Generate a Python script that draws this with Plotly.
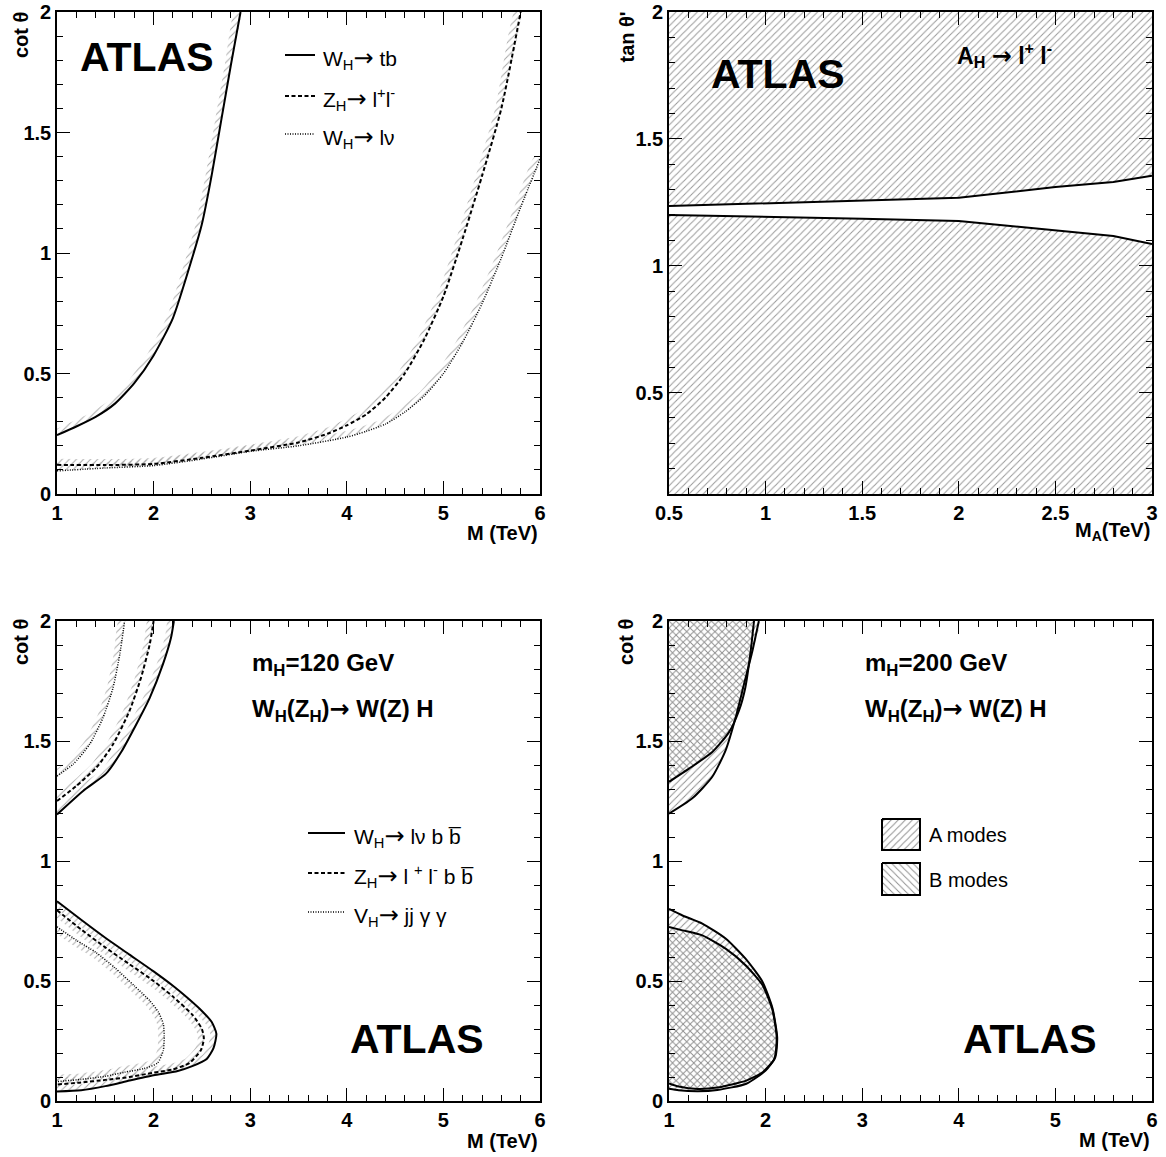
import numpy as np
import plotly.graph_objects as go

# ---------------- data ----------------
# Top-left: cot(theta) vs M (TeV)
TB_X = [1.0, 1.2, 1.4, 1.6, 1.8, 2.0, 2.2, 2.4, 2.5, 2.6, 2.7, 2.8, 2.9]
TB_Y = [0.244, 0.28, 0.32, 0.375, 0.46, 0.575, 0.73, 0.98, 1.12, 1.32, 1.55, 1.78, 2.0]
ZLL_X = [1.0, 1.5, 2.0, 2.5, 3.0, 3.5, 3.8, 4.0, 4.2, 4.4, 4.6, 4.8, 5.0, 5.2, 5.4, 5.6, 5.8]
ZLL_Y = [0.121, 0.12, 0.125, 0.15, 0.18, 0.214, 0.25, 0.285, 0.33, 0.4, 0.5, 0.64, 0.82, 1.06, 1.32, 1.6, 2.0]
WLN_X = [1.0, 1.5, 2.0, 2.5, 3.0, 3.5, 4.0, 4.2, 4.4, 4.6, 4.8, 5.0, 5.2, 5.4, 5.6, 5.8, 6.0]
WLN_Y = [0.096, 0.108, 0.118, 0.145, 0.177, 0.2, 0.236, 0.26, 0.29, 0.34, 0.406, 0.5, 0.63, 0.79, 0.98, 1.19, 1.39]

# Top-right: tan(theta') vs M_A (TeV)
TR_UP_X = [0.5, 1.0, 1.5, 2.0, 2.5, 2.8, 3.0]
TR_UP_Y = [1.235, 1.245, 1.255, 1.268, 1.31, 1.33, 1.355]
TR_LO_X = [0.5, 1.0, 1.5, 2.0, 2.5, 2.8, 3.0]
TR_LO_Y = [1.2, 1.193, 1.185, 1.176, 1.14, 1.117, 1.085]

# Bottom-left: m_H = 120 GeV
BL_SOL_UP_X = [1.0, 1.27, 1.51, 1.666, 1.82, 1.96, 2.097, 2.18, 2.21]
BL_SOL_UP_Y = [1.194, 1.292, 1.365, 1.455, 1.569, 1.68, 1.82, 1.93, 2.0]
BL_DSH_UP_X = [1.0, 1.2, 1.407, 1.58, 1.75, 1.87, 1.96, 2.0]
BL_DSH_UP_Y = [1.25, 1.3125, 1.389, 1.486, 1.625, 1.764, 1.903, 2.0]
BL_DOT_UP_X = [1.0, 1.166, 1.338, 1.476, 1.58, 1.65, 1.70]
BL_DOT_UP_Y = [1.354, 1.403, 1.486, 1.597, 1.722, 1.861, 2.0]
BL_SOL_LO_X = [1.0, 1.25, 1.5, 1.75, 2.0, 2.2, 2.35, 2.5, 2.6, 2.65, 2.62, 2.55, 2.4, 2.25, 2.0, 1.75, 1.5, 1.25, 1.0]
BL_SOL_LO_Y = [0.832, 0.755, 0.68, 0.61, 0.54, 0.48, 0.43, 0.375, 0.33, 0.28, 0.22, 0.175, 0.145, 0.125, 0.107, 0.085, 0.062, 0.045, 0.04]
BL_DSH_LO_X = [1.0, 1.25, 1.5, 1.75, 2.0, 2.2, 2.4, 2.5, 2.52, 2.49, 2.37, 2.2, 2.0, 1.75, 1.5, 1.25, 1.0]
BL_DSH_LO_Y = [0.795, 0.715, 0.64, 0.57, 0.5, 0.435, 0.36, 0.3, 0.26, 0.212, 0.158, 0.132, 0.118, 0.1, 0.088, 0.077, 0.069]
BL_DOT_LO_X = [1.0, 1.2, 1.4, 1.6, 1.8, 1.96, 2.05, 2.1, 2.11, 2.1, 2.04, 1.9, 1.7, 1.5, 1.25, 1.0]
BL_DOT_LO_Y = [0.726, 0.67, 0.62, 0.555, 0.48, 0.418, 0.37, 0.322, 0.27, 0.21, 0.158, 0.135, 0.12, 0.103, 0.09, 0.081]

# Bottom-right: m_H = 200 GeV (A modes / B modes)
BR_A_UP_X = [1.0, 1.241, 1.448, 1.586, 1.69, 1.776, 1.862, 1.93]
BR_A_UP_Y = [1.197, 1.261, 1.351, 1.461, 1.598, 1.736, 1.873, 2.0]
BR_B_UP_X = [1.0, 1.207, 1.448, 1.62, 1.724, 1.79, 1.845, 1.88]
BR_B_UP_Y = [1.33, 1.385, 1.454, 1.536, 1.626, 1.722, 1.873, 2.0]
BR_A_LO_X = [1.0, 1.14, 1.345, 1.586, 1.79, 1.966, 2.07, 2.12, 2.1, 2.0, 1.8, 1.5, 1.3, 1.1, 1.0]
BR_A_LO_Y = [0.80, 0.773, 0.739, 0.677, 0.594, 0.498, 0.388, 0.264, 0.182, 0.127, 0.072, 0.046, 0.041, 0.045, 0.051]
BR_B_LO_X = [1.0, 1.14, 1.345, 1.586, 1.79, 1.966, 2.07, 2.115, 2.09, 1.97, 1.8, 1.5, 1.3, 1.1, 1.0]
BR_B_LO_Y = [0.725, 0.711, 0.69, 0.635, 0.567, 0.484, 0.381, 0.264, 0.175, 0.12, 0.085, 0.056, 0.05, 0.06, 0.073]

# axis ranges
M_RANGE = [1, 6]
MA_RANGE = [0.5, 3]
COT_RANGE = [0, 2]
TAN_RANGE = [0.1, 2]

# ---------------- layout geometry (page pixels) ----------------
W, H = 1166, 1157
LEFT_X = (57, 540)
RIGHT_X = (669, 1152)
TOP_Y = (12, 494)
BOT_Y = (621, 1101)

def xdom(px):
    return [px[0] / W, px[1] / W]

def ydom(py):
    return [1 - py[1] / H, 1 - py[0] / H]

FONT = "Liberation Sans"
GRAY = "#8c8c8c"
ARROW = '<span style="font-family:DejaVu Sans;font-size:24px">→</span>'

fig = go.Figure()

def hatch_band(xs, ys, xr, yr, px_x, px_y, width=6, side=1):
    """Thin polygon along a curve (offset in pixel space) used for the hatched side band."""
    sx = (px_x[1] - px_x[0]) / (xr[1] - xr[0])
    sy = (px_y[1] - px_y[0]) / (yr[1] - yr[0])
    X = np.array(xs) * sx
    Y = np.array(ys) * sy
    dX = np.gradient(X)
    dY = np.gradient(Y)
    n = np.hypot(dX, dY)
    nx = -dY / n * side
    ny = dX / n * side
    ox = (X + width * nx) / sx
    oy = (Y + width * ny) / sy
    return list(xs) + list(ox[::-1]), list(ys) + list(oy[::-1])

def add_pattern(xs, ys, xa, ya, shape="/", color=GRAY, size=6, solidity=0.18, spline=True):
    fig.add_trace(go.Scatter(
        x=xs, y=ys, xaxis=xa, yaxis=ya, mode="lines", fill="toself",
        line=dict(width=0, shape="spline" if spline else "linear", smoothing=0.6),
        fillcolor="rgba(0,0,0,0)",
        fillpattern=dict(shape=shape, fgcolor=color, bgcolor="rgba(0,0,0,0)",
                         size=size, solidity=solidity, fillmode="replace"),
        showlegend=False, hoverinfo="skip"))

def add_line(xs, ys, xa, ya, dash="solid", width=2, spline=True):
    fig.add_trace(go.Scatter(
        x=xs, y=ys, xaxis=xa, yaxis=ya, mode="lines",
        line=dict(color="black", width=width, dash=dash,
                  shape="spline" if spline else "linear", smoothing=0.6),
        showlegend=False, hoverinfo="skip"))

DASH = "4px,2.5px"
DOT = "1px,1.5px"
BAND_COLOR = "#a8a8a8"

# ---- top-left ----
tl = [(TB_X, TB_Y, "solid", 2), (ZLL_X, ZLL_Y, DASH, 2), (WLN_X, WLN_Y, DOT, 1.5)]
for xs, ys, d, w in tl:
    bx, by = hatch_band(xs, ys, M_RANGE, COT_RANGE, LEFT_X, TOP_Y, width=6, side=1)
    add_pattern(bx, by, "x", "y", color=BAND_COLOR, size=5, solidity=0.2)
for xs, ys, d, w in tl:
    add_line(xs, ys, "x", "y", dash=d, width=w)

# ---- top-right ----
add_pattern(TR_UP_X + [MA_RANGE[1], MA_RANGE[0]], TR_UP_Y + [TAN_RANGE[1], TAN_RANGE[1]],
            "x2", "y2", color="#999999", size=5, solidity=0.2, spline=False)
add_pattern(TR_LO_X + [MA_RANGE[1], MA_RANGE[0]], TR_LO_Y + [TAN_RANGE[0], TAN_RANGE[0]],
            "x2", "y2", color="#999999", size=5, solidity=0.2, spline=False)
add_line(TR_UP_X, TR_UP_Y, "x2", "y2", width=2, spline=False)
add_line(TR_LO_X, TR_LO_Y, "x2", "y2", width=2, spline=False)

# ---- bottom-left ----
bl_up = [(BL_SOL_UP_X, BL_SOL_UP_Y, "solid", 2), (BL_DSH_UP_X, BL_DSH_UP_Y, DASH, 2),
         (BL_DOT_UP_X, BL_DOT_UP_Y, DOT, 1.5)]
bl_lo = [(BL_SOL_LO_X, BL_SOL_LO_Y, "solid", 2), (BL_DSH_LO_X, BL_DSH_LO_Y, DASH, 2),
         (BL_DOT_LO_X, BL_DOT_LO_Y, DOT, 1.5)]
for xs, ys, d, w in bl_up:
    bx, by = hatch_band(xs, ys, M_RANGE, COT_RANGE, LEFT_X, BOT_Y, width=6, side=1)
    add_pattern(bx, by, "x3", "y3", color=BAND_COLOR, size=5, solidity=0.2)
for xs, ys, d, w in bl_lo:
    bx, by = hatch_band(xs, ys, M_RANGE, COT_RANGE, LEFT_X, BOT_Y, width=6, side=-1)
    add_pattern(bx, by, "x3", "y3", color=BAND_COLOR, size=5, solidity=0.2)
for xs, ys, d, w in bl_up + bl_lo:
    add_line(xs, ys, "x3", "y3", dash=d, width=w)

# ---- bottom-right ----
PAT_A = dict(shape="/", color="#8a8a8a", size=5, solidity=0.18)
PAT_B = dict(shape="\\", color="#8a8a8a", size=5, solidity=0.18)
add_pattern(BR_A_UP_X + [M_RANGE[0]], BR_A_UP_Y + [COT_RANGE[1]], "x4", "y4", **PAT_A)
add_pattern(BR_B_UP_X + [M_RANGE[0]], BR_B_UP_Y + [COT_RANGE[1]], "x4", "y4", **PAT_B)
add_pattern(BR_A_LO_X, BR_A_LO_Y, "x4", "y4", **PAT_A)
add_pattern(BR_B_LO_X, BR_B_LO_Y, "x4", "y4", **PAT_B)
for xs, ys in [(BR_A_UP_X, BR_A_UP_Y), (BR_B_UP_X, BR_B_UP_Y), (BR_A_LO_X, BR_A_LO_Y), (BR_B_LO_X, BR_B_LO_Y)]:
    add_line(xs, ys, "x4", "y4", width=2)

# ---- legend swatches for bottom-right (pixel overlay axis) ----
BOX_A = (882, 920, 819, 850)
BOX_B = (882, 920, 863, 895)
for (x0, x1, y0, y1), pat in [(BOX_A, PAT_A), (BOX_B, PAT_B)]:
    fig.add_trace(go.Scatter(
        x=[x0, x1, x1, x0, x0], y=[y0, y0, y1, y1, y0], xaxis="x5", yaxis="y5",
        mode="lines", fill="toself", line=dict(color="black", width=2),
        fillcolor="rgba(0,0,0,0)",
        fillpattern=dict(shape=pat["shape"], fgcolor=pat["color"], bgcolor="rgba(0,0,0,0)",
                         size=pat["size"], solidity=pat["solidity"], fillmode="replace"),
        showlegend=False, hoverinfo="skip"))

# ---------------- axes ----------------
def axis_style(rng, dtick, minor_dtick, dom):
    return dict(
        domain=dom, range=rng, dtick=dtick, tick0=0, automargin=False,
        ticklabeloverflow="allow",
        showline=True, linecolor="black", linewidth=1.6, mirror="allticks",
        ticks="inside", ticklen=13, tickwidth=1.2, tickcolor="black",
        showgrid=False, zeroline=False,
        tickfont=dict(family=FONT, size=20, color="black", weight="bold"),
        minor=dict(ticks="inside", ticklen=6.5, tickwidth=1, tickcolor="black",
                   dtick=minor_dtick, tick0=0, showgrid=False),
        fixedrange=True,
    )

fig.update_layout(
    xaxis=dict(axis_style(M_RANGE, 1, 0.2, xdom(LEFT_X)), anchor="y"),
    yaxis=dict(axis_style(COT_RANGE, 0.5, 0.1, ydom(TOP_Y)), anchor="x"),
    xaxis2=dict(axis_style(MA_RANGE, 0.5, 0.1, xdom(RIGHT_X)), anchor="y2"),
    yaxis2=dict(axis_style(TAN_RANGE, 0.5, 0.1, ydom(TOP_Y)), anchor="x2"),
    xaxis3=dict(axis_style(M_RANGE, 1, 0.2, xdom(LEFT_X)), anchor="y3"),
    yaxis3=dict(axis_style(COT_RANGE, 0.5, 0.1, ydom(BOT_Y)), anchor="x3"),
    xaxis4=dict(axis_style(M_RANGE, 1, 0.2, xdom(RIGHT_X)), anchor="y4"),
    yaxis4=dict(axis_style(COT_RANGE, 0.5, 0.1, ydom(BOT_Y)), anchor="x4"),
    # overlay axis in page-pixel coordinates for texts and legend samples
    xaxis5=dict(domain=[0, 1], range=[0, W], visible=False, fixedrange=True,
                anchor="y5", automargin=False),
    yaxis5=dict(domain=[0, 1], range=[H, 0], visible=False, fixedrange=True,
                anchor="x5", automargin=False),
    width=W, height=H, margin=dict(l=0, r=0, t=0, b=0, autoexpand=False),
    paper_bgcolor="white", plot_bgcolor="rgba(0,0,0,0)",
    showlegend=False,
    font=dict(family=FONT, color="black"),
)

# ---------------- texts & legend lines (page pixel coordinates) ----------------
def txt(x, y, s, size=21, bold=False, xanchor="left", yanchor="middle", angle=0):
    fig.add_annotation(x=x, y=y, xref="x5", yref="y5", text=s, showarrow=False,
                       xanchor=xanchor, yanchor=yanchor, textangle=angle,
                       font=dict(family=FONT, size=size, color="black",
                                 weight="bold" if bold else "normal"))

def legline(x0, x1, y, dash, width):
    fig.add_shape(type="line", xref="x5", yref="y5", x0=x0, x1=x1, y0=y, y1=y,
                  line=dict(color="black", width=width, dash=dash))

# top-left
txt(146.5, 57, "ATLAS", size=41, bold=True, xanchor="center")
for yy, d, w, s in [(55, "solid", 2, "W<sub>H</sub>" + ARROW + " tb"),
                    (96, DASH, 2, "Z<sub>H</sub>" + ARROW + " l<sup>+</sup>l<sup>-</sup>"),
                    (134, DOT, 1.5, "W<sub>H</sub>" + ARROW + " lν")]:
    legline(285, 315, yy, d, w)
    txt(321, yy + 3, s, size=21)
txt(21, 10, "cot θ", size=20, bold=True, xanchor="center", yanchor="top", angle=-90)
txt(540, 533, "M (TeV)", size=20, bold=True, xanchor="right")

# top-right
txt(777.5, 74, "ATLAS", size=41, bold=True, xanchor="center")
txt(955, 55, "A<sub>H</sub> " + ARROW + " l<sup>+</sup> l<sup>-</sup>", size=23, bold=True)
txt(626, 10, "tan θ'", size=20, bold=True, xanchor="center", yanchor="top", angle=-90)
txt(1152, 531, "M<sub>A</sub>(TeV)", size=20, bold=True, xanchor="right")

# bottom-left
txt(250, 664, "m<sub>H</sub>=120 GeV", size=24, bold=True)
txt(250, 710, "W<sub>H</sub>(Z<sub>H</sub>)" + ARROW + " W(Z) H", size=24, bold=True)
for yy, d, w, s in [(833, "solid", 2, "W<sub>H</sub>" + ARROW + " lν b b\u0305"),
                    (873, DASH, 2, "Z<sub>H</sub>" + ARROW + " l <sup>+</sup> l<sup>-</sup> b b\u0305"),
                    (912, DOT, 1.5, "V<sub>H</sub>" + ARROW + " jj γ γ")]:
    legline(308, 345, yy, d, w)
    txt(352, yy + 3, s, size=21)
txt(416.5, 1039, "ATLAS", size=41, bold=True, xanchor="center")
txt(21, 617, "cot θ", size=20, bold=True, xanchor="center", yanchor="top", angle=-90)
txt(540, 1141, "M (TeV)", size=20, bold=True, xanchor="right")

# bottom-right
txt(863, 664, "m<sub>H</sub>=200 GeV", size=24, bold=True)
txt(863, 710, "W<sub>H</sub>(Z<sub>H</sub>)" + ARROW + " W(Z) H", size=24, bold=True)
txt(927, 835, "A modes", size=20)
txt(927, 880, "B modes", size=20)
txt(1029.5, 1039, "ATLAS", size=41, bold=True, xanchor="center")
txt(626, 617, "cot θ", size=20, bold=True, xanchor="center", yanchor="top", angle=-90)
txt(1152, 1140, "M (TeV)", size=20, bold=True, xanchor="right")

# remove the page's default body margin so the figure sits at the window origin
fig.write_html("out.html", config={"displayModeBar": False},
               post_script="document.body.style.margin='0px';")
